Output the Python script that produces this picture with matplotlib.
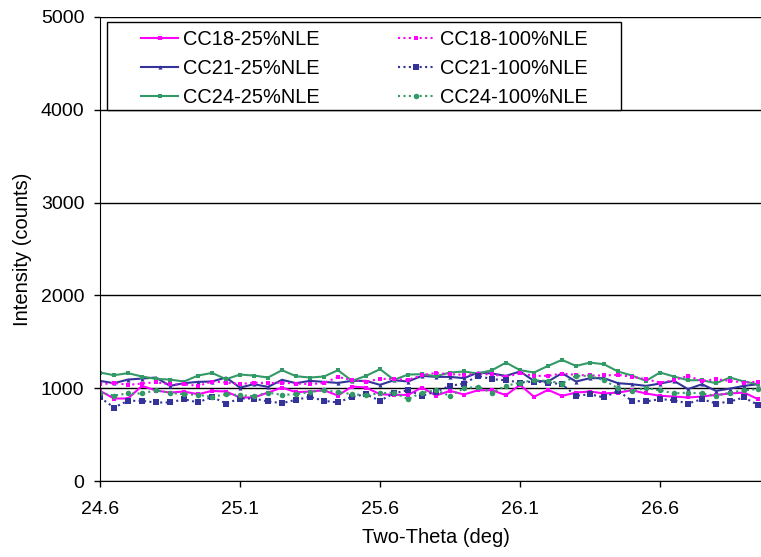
import matplotlib

matplotlib.use("Agg")
import matplotlib.pyplot as plt
from matplotlib.patches import Rectangle
import numpy as np

plt.rcParams["font.family"] = ["Liberation Sans", "DejaVu Sans"]

# two-theta positions, 0.05 deg steps from 24.6
two_theta = np.round(24.6 + 0.05 * np.arange(48), 2)

cc18_25 = [971, 889, 889, 1025, 975, 953, 964, 935, 971, 964, 900, 900, 953,
           1007, 957, 964, 978, 921, 1018, 1007, 935, 928, 928, 1007,
           921, 971, 932, 978, 978, 925, 1036, 907, 982, 917, 953, 964, 943,
           953, 978, 943, 918, 910, 900, 910, 928, 943, 953, 882]
cc21_25 = [1079, 1054, 1093, 1104, 1115, 1025, 1054, 1068, 1072, 1115, 1007, 1043, 1014,
           1090, 1054, 1079, 1068, 1057, 1079, 1079, 1036, 1086, 1072, 1133,
           1122, 1122, 1108, 1169, 1158, 1133, 1180, 1079, 1072, 1162, 1072, 1108, 1108,
           1054, 1043, 1025, 1050, 1079, 990, 1043, 971, 996, 1025, 1043]
cc24_25 = [1169, 1140, 1162, 1126, 1100, 1093, 1072, 1136, 1165, 1097, 1147, 1136, 1115,
           1194, 1129, 1115, 1126, 1194, 1079, 1133, 1205, 1090, 1147, 1151,
           1129, 1169, 1180, 1158, 1194, 1276, 1194, 1169, 1240, 1305, 1240, 1276, 1258,
           1180, 1136, 1079, 1169, 1126, 1086, 1086, 1054, 1115, 1072, 1043]
cc18_100 = [1040, 1057, 1036, 1050, 1065, 1040, 1043, 1025, 1072, 1061, 1043, 1061, 1054,
            1060, 1050, 1043, 1057, 1120, 1090, 1072, 1100, 1100, 1090, 1140,
            1165, 1151, 1144, 1151, 1151, 1122, 1162, 1133, 1133, 1158, 1144, 1137, 1137,
            1144, 1122, 1097, 1061, 1086, 1133, 1079, 1097, 1079, 1061, 1070]
cc21_100 = [900, 792, 864, 864, 846, 846, 882, 846, 907, 835, 889, 889, 857,
            839, 875, 907, 864, 846, 907, 935, 864, 946, 978, 918,
            964, 1025, 1050, 1133, 1097, 1086, 1061, 1072, 1061, 1043, 918, 935, 900,
            971, 864, 857, 882, 871, 835, 882, 835, 857, 900, 820]
cc24_100 = [950, 921, 943, 943, 978, 950, 935, 928, 907, 935, 925, 914, 953,
            928, 935, 960, 978, 960, 935, 925, 946, 953, 882, 953,
            978, 917, 1000, 1014, 953, 1025, 1061, 1086, 1079, 1050, 1133, 1133, 1086,
            1000, 971, 1000, 978, 943, 953, 943, 917, 953, 978, 990]

x_ticks = [24.6, 25.1, 25.6, 26.1, 26.6]
y_ticks = [0, 1000, 2000, 3000, 4000, 5000]

MAGENTA = "#FF00FF"
NAVY = "#333399"
GREEN = "#339966"
DOTS = (0, (1, 1.6))

series = [
    ("CC18-25%NLE", cc18_25, MAGENTA, "-", "s", 3.5),
    ("CC21-25%NLE", cc21_25, NAVY, "-", "^", 3.0),
    ("CC24-25%NLE", cc24_25, GREEN, "-", "s", 3.5),
    ("CC18-100%NLE", cc18_100, MAGENTA, DOTS, "s", 3.5),
    ("CC21-100%NLE", cc21_100, NAVY, DOTS, "s", 5.0),
    ("CC24-100%NLE", cc24_100, GREEN, DOTS, "o", 4.0),
]

W, H = 761, 557
fig = plt.figure(figsize=(W / 100, H / 100), dpi=100)
# axes run past the right edge (x max 27.0 is cut off like the original)
ax = fig.add_axes([100 / W, 1 - 481 / H, 672 / W, 464 / H])

for label, vals, color, ls, marker, ms in series:
    ax.plot(two_theta, vals, color=color, linestyle=ls, linewidth=1.5,
            marker=marker, markersize=ms, markeredgewidth=0, label=label)

ax.set_xlim(24.6, 27.0)
ax.set_ylim(0, 5000)
ax.set_xticks(x_ticks)
ax.set_xticklabels([f"{t:.1f}" for t in x_ticks])
ax.set_yticks(y_ticks)
ax.yaxis.grid(True, color="black", linewidth=1.0)
ax.set_axisbelow(True)
for side in ("top", "right"):
    ax.spines[side].set_visible(False)
ax.tick_params(axis="both", direction="out", length=4.3, width=1, labelsize=14)
ax.tick_params(axis="y", pad=7)
ax.tick_params(axis="x", pad=10)

ax.set_xlabel("Two-Theta (deg)", fontsize=14.5, labelpad=7)
ax.set_ylabel("Intensity (counts)", fontsize=14.5, labelpad=6)

# legend box drawn by hand so the padding matches the original
ax.add_patch(Rectangle((107 / W, 1 - 110 / H), 514 / W, 88 / H,
                       transform=fig.transFigure, facecolor="white",
                       edgecolor="black", linewidth=1.0, zorder=5, clip_on=False))
leg = ax.legend(ncol=2, loc="upper left", bbox_to_anchor=(141 / W, 1 - 30 / H),
                bbox_transform=fig.transFigure, fontsize=14.4, frameon=False,
                handlelength=1.85, columnspacing=3.9, labelspacing=0.5,
                borderpad=0, handletextpad=0.25, borderaxespad=0)
leg.set_zorder(6)

fig.savefig("out.png", dpi=100)
